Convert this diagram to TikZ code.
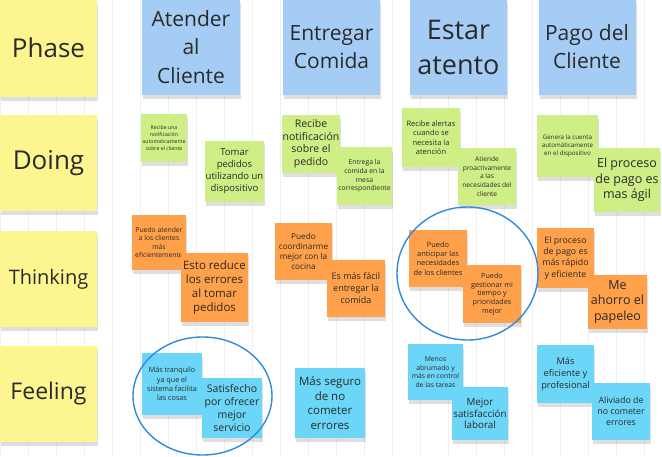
\documentclass[tikz,border=0pt]{standalone}
\usepackage{fontspec}
\setmainfont{Open Sans}
\usetikzlibrary{shadows}
\definecolor{ynote}{HTML}{FCF590}
\definecolor{bnote}{HTML}{A5CCF5}
\definecolor{gnote}{HTML}{D0EE86}
\definecolor{onote}{HTML}{FFA14A}
\definecolor{cnote}{HTML}{6BD6F7}
\definecolor{ring}{HTML}{2E8BE0}
\definecolor{ink}{HTML}{2A2A2A}
\definecolor{gridc}{HTML}{F0F0F0}
\newcommand\fsz[2]{\fontsize{#1}{#2}\selectfont}
\tikzset{
  note/.style={inner sep=1pt, align=center, text=ink,
    drop shadow={shadow xshift=1pt, shadow yshift=-4pt, opacity=0.25}},
  ringline/.style={draw=ring, line width=1.4pt}
}
\begin{document}
\begin{tikzpicture}[x=1pt,y=-1pt]
\useasboundingbox (0,0) rectangle (662,456);
\clip (0,0) rectangle (662,456);
\fill[white] (0,0) rectangle (662,456);
\draw[gridc, line width=0.6pt, step=28] (0,0) grid (662,456);

% left column
\node[note, fill=ynote, minimum width=97pt, minimum height=97pt, font=\fsz{26}{30}] (phase) at (48.5,48) {Phase};
\node[note, fill=ynote, minimum width=97pt, minimum height=96pt, font=\fsz{26}{30}] (doing) at (48.5,163) {Doing};
\node[note, fill=ynote, minimum width=97pt, minimum height=96pt, font=\fsz{20}{26}] (thinking) at (48.5,279) {Thinking};
\node[note, fill=ynote, minimum width=97pt, minimum height=96pt, font=\fsz{23}{28}] (feeling) at (48.5,394) {Feeling};

% headers
\node[note, fill=bnote, minimum width=98pt, minimum height=96pt, font=\fsz{21}{28.5}] (h1) at (191,47) {Atender\\al\\Cliente};
\node[note, fill=bnote, minimum width=97pt, minimum height=96pt, font=\fsz{21}{28}] (h2) at (331.5,47) {Entregar\\Comida};
\node[note, fill=bnote, minimum width=97pt, minimum height=96pt, font=\fsz{27}{35}] (h3) at (458.5,47) {Estar\\atento};
\node[note, fill=bnote, minimum width=97pt, minimum height=96pt, font=\fsz{21}{28}] (h4) at (587,47) {Pago del\\Cliente};

% doing row
\node[note, fill=gnote, minimum width=46pt, minimum height=48pt, font=\fsz{5.2}{7}] (d1) at (164,138) {Recibe una\\notificación\\automaticamente\\sobre el cliente};
\node[note, fill=gnote, minimum width=57pt, minimum height=61pt, font=\fsz{9.5}{12}] (d2) at (234.5,171.5) {Tomar\\pedidos\\utilizando un\\dispositivo};
\node[note, fill=gnote, minimum width=58pt, minimum height=58pt, font=\fsz{10.5}{12.5}] (d3) at (311,144) {Recibe\\notificación\\sobre el\\pedido};
\node[note, fill=gnote, minimum width=55pt, minimum height=58pt, font=\fsz{6.8}{8.6}] (d4) at (364.5,176) {Entrega la\\comida en la\\mesa\\correspondiente};
\node[note, fill=gnote, minimum width=58pt, minimum height=59pt, font=\fsz{7.5}{9.5}] (d5) at (431,137.5) {Recibe alertas\\cuando se\\necesita la\\atención};
\node[note, fill=gnote, minimum width=58pt, minimum height=57pt, font=\fsz{6.6}{8.8}] (d6) at (487,176.5) {Atiende\\proactivamente\\a las\\necesidades del\\cliente};
\node[note, fill=gnote, minimum width=61pt, minimum height=62pt, font=\fsz{6.2}{8.3}] (d7) at (567.5,146) {Genera la cuenta\\automáticamente\\en el dispositivo};
\node[note, fill=gnote, minimum width=63pt, minimum height=64pt, font=\fsz{12.5}{15.5}] (d8) at (627,180) {El proceso\\de pago es\\mas ágil};

% thinking row
\node[note, fill=onote, minimum width=54pt, minimum height=55pt, font=\fsz{6.8}{8.6}] (t1) at (159,242.5) {Puedo atender\\a los clientes\\más\\eficientemente};
\node[note, fill=onote, minimum width=67pt, minimum height=69pt, font=\fsz{11.5}{14}] (t2) at (214.5,287.5) {Esto reduce\\los errores\\al tomar\\pedidos};
\node[note, fill=onote, minimum width=57pt, minimum height=57pt, font=\fsz{8.2}{10.2}] (t3) at (303.5,251.5) {Puedo\\coordinarme\\mejor con la\\cocina};
\node[note, fill=onote, minimum width=58pt, minimum height=57pt, font=\fsz{9}{12}] (t4) at (356,288.5) {Es más fácil\\entregar la\\comida};
\node[note, fill=onote, minimum width=58pt, minimum height=57pt, font=\fsz{7.4}{9.4}] (t5) at (438,258.5) {Puedo\\anticipar las\\necesidades\\de los clientes};
\node[note, fill=onote, minimum width=58pt, minimum height=58pt, font=\fsz{7.2}{8.8}] (t6) at (492,294) {Puedo\\gestionar mi\\tiempo y\\prioridades\\mejor};
\node[note, fill=onote, minimum width=57pt, minimum height=60pt, font=\fsz{8.8}{11.2}] (t7) at (565.5,258) {El proceso\\de pago es\\más rápido\\y eficiente};
\node[note, fill=onote, minimum width=59pt, minimum height=54pt, font=\fsz{12.5}{15.5}] (t8) at (617.5,302) {Me\\ahorro el\\papeleo};

% feeling row
\node[note, fill=cnote, minimum width=60pt, minimum height=62pt, font=\fsz{7.2}{9.4}] (f1) at (172,384) {Más tranquilo\\ya que el\\sistema facilita\\las cosas};
\node[note, fill=cnote, minimum width=60pt, minimum height=60pt, font=\fsz{10.5}{12.8}] (f2) at (232,408) {Satisfecho\\por ofrecer\\mejor\\servicio};
\node[note, fill=cnote, minimum width=70pt, minimum height=70pt, font=\fsz{11.5}{14.5}] (f3) at (330,403) {Más seguro\\de no\\cometer\\errores};
\node[note, fill=cnote, minimum width=55pt, minimum height=56pt, font=\fsz{6.8}{8.7}] (f4) at (435.5,372) {Menos\\abrumado y\\más en control\\de las tareas};
\node[note, fill=cnote, minimum width=54pt, minimum height=53pt, font=\fsz{9.8}{11.8}] (f5) at (480,413.5) {Mejor\\satisfacción\\laboral};
\node[note, fill=cnote, minimum width=57pt, minimum height=58pt, font=\fsz{9.2}{11.8}] (f6) at (565.5,374) {Más\\eficiente y\\profesional};
\node[note, fill=cnote, minimum width=58pt, minimum height=57pt, font=\fsz{8.8}{11}] (f7) at (621,411.5) {Aliviado de\\no cometer\\errores};

% rings
\draw[ringline] (467.5,273.5) ellipse [x radius=70.5pt, y radius=66.5pt];
\draw[ringline] (202.5,396) ellipse [x radius=69.5pt, y radius=59pt];
\end{tikzpicture}
\end{document}
